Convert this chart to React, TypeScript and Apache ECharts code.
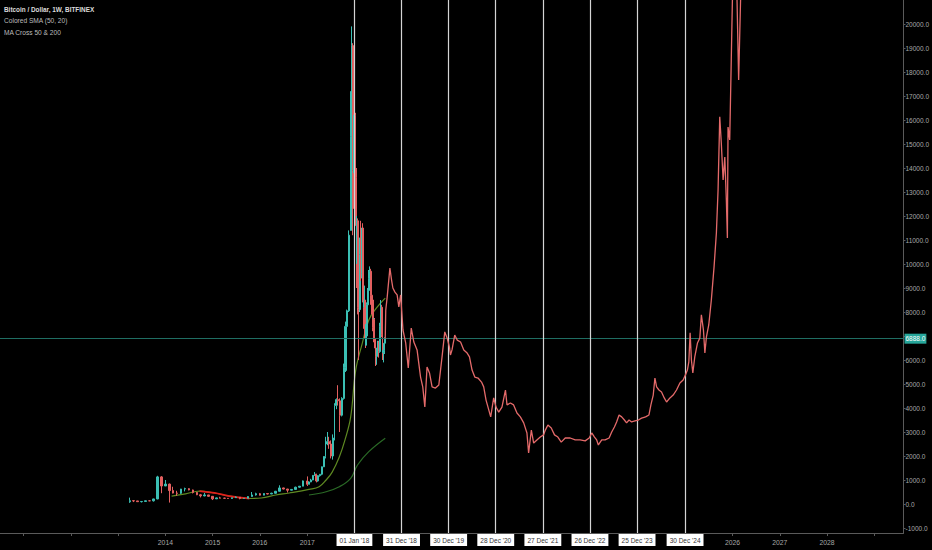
import React, { useEffect, useRef } from "react";
import * as echarts from "echarts";

// ---------- DATA ----------
// Historical candles: [open, close, low, high]
// Monthly, 2013–2016
const monthlyDates = [
  "2013-04-01","2013-05-01","2013-06-01","2013-07-01","2013-08-01","2013-09-01","2013-10-01","2013-11-01","2013-12-01",
  "2014-01-01","2014-02-01","2014-03-01","2014-04-01","2014-05-01","2014-06-01","2014-07-01","2014-08-01","2014-09-01","2014-10-01","2014-11-01","2014-12-01",
  "2015-01-01","2015-02-01","2015-03-01","2015-04-01","2015-05-01","2015-06-01","2015-07-01","2015-08-01","2015-09-01","2015-10-01","2015-11-01","2015-12-01",
  "2016-01-01","2016-02-01","2016-03-01","2016-04-01","2016-05-01","2016-06-01","2016-07-01","2016-08-01","2016-09-01","2016-10-01","2016-11-01","2016-12-01"
];
const monthlyOHLC: number[][] = [
  [93,139,50,266],[139,129,80,140],[129,97,88,130],[97,106,65,111],[106,135,99,140],[135,133,118,147],[133,211,103,220],[211,1130,200,1175],[1130,750,450,1165],
  [750,830,750,1000],[830,560,60,850],[560,455,440,720],[455,445,340,550],[445,625,420,630],[625,640,525,680],[640,585,570,660],[585,480,440,600],[480,385,370,500],[385,338,275,420],[338,378,320,460],[378,320,300,380],
  [320,215,165,320],[215,255,210,265],[255,245,238,300],[245,236,212,260],[236,230,225,245],[230,263,215,265],[263,284,252,318],[284,230,195,285],[230,236,225,245],[236,312,236,330],[312,378,300,500],[378,430,350,470],
  [430,368,355,460],[368,436,365,445],[436,416,400,440],[416,448,415,470],[448,531,440,545],[531,670,525,780],[670,624,610,680],[624,575,480,630],[575,608,570,620],[608,700,604,720],[700,742,680,750],[742,963,740,980]
];
// Bi-weekly / weekly, 2017–Aug 2018
const weeklyDates = [
  "2017-01-02","2017-01-16","2017-01-30","2017-02-13","2017-02-27","2017-03-13","2017-03-27","2017-04-10","2017-04-24","2017-05-08","2017-05-22",
  "2017-06-05","2017-06-19","2017-07-03","2017-07-17","2017-07-31","2017-08-14","2017-08-28","2017-09-11","2017-09-25","2017-10-09","2017-10-23",
  "2017-11-06","2017-11-20","2017-12-04","2017-12-11","2017-12-18","2017-12-25",
  "2018-01-01","2018-01-08","2018-01-15","2018-01-22","2018-01-29","2018-02-05","2018-02-12","2018-02-19","2018-02-26","2018-03-05","2018-03-12",
  "2018-03-19","2018-03-26","2018-04-02","2018-04-09","2018-04-16","2018-04-23","2018-04-30","2018-05-07","2018-05-14","2018-05-21","2018-05-28",
  "2018-06-04","2018-06-11","2018-06-18","2018-06-25","2018-07-02","2018-07-09","2018-07-16","2018-07-23","2018-07-30","2018-08-06","2018-08-13",
  "2018-08-20","2018-08-27"
];
const weeklyOHLC: number[][] = [
  [960,820,750,1150],[820,920,820,950],[920,1000,910,1050],[1000,1190,990,1210],[1190,1240,1170,1330],[1240,960,900,1260],[960,1180,930,1200],[1180,1240,1140,1250],[1240,1550,1200,1560],[1550,1980,1540,1990],[1980,2500,1900,2800],
  [2500,2600,2450,3000],[2600,2500,2300,2800],[2500,2000,1900,2650],[2000,2750,1850,2900],[2750,4100,2650,4200],[4100,4350,3950,4400],[4350,4300,4100,4950],[4300,3700,3000,4400],[3700,4400,3650,4450],[4400,5700,4350,5850],[5700,7400,5500,7600],
  [7400,8050,5550,8100],[8050,11200,8000,11400],[11400,15300,11400,17200],[15300,19100,13200,19900],[19100,13900,11200,19200],[13900,13800,12300,16500],
  [13800,16200,12800,17250],[16200,13600,12600,16300],[13600,11600,9000,14000],[11600,11800,10000,12000],[11800,8200,7900,11900],[8200,8100,6000,9000],[8100,10400,8000,11100],[10400,9600,9300,11800],[9600,11500,9400,11500],[11500,9500,8400,11700],[9500,8200,7300,9900],
  [8200,8500,8000,9100],[8500,6900,6500,8500],[6900,7000,6600,7500],[7000,8300,6600,8400],[8300,8900,7900,9000],[8900,9400,8700,9750],[9400,9700,9000,9900],[9700,8700,8300,9800],[8700,8500,7900,8900],[8500,7350,7200,8500],[7350,7700,7050,7750],
  [7700,6750,6600,7750],[6750,6500,6150,6900],[6500,6150,5750,6850],[6150,6400,5800,6500],[6400,6750,6300,6800],[6750,6350,6100,6800],[6350,7400,6300,7550],[7400,8200,7350,8500],[8200,7050,6950,8300],[7050,6300,6000,7150],[6300,6400,5900,6600],
  [6400,6700,6250,6800],[6700,6888,6650,6950]
];

// Projected path (red line)
const projDates = [
  "2018-08-27","2018-08-31","2018-09-11","2018-10-02","2018-10-15","2018-10-25","2018-11-10","2018-11-27","2018-12-10","2018-12-24",
  "2019-01-11","2019-02-01","2019-02-21","2019-03-16","2019-04-05","2019-04-30","2019-05-27","2019-06-13","2019-06-29","2019-07-16","2019-08-04","2019-08-24","2019-09-19","2019-10-15","2019-11-09","2019-11-30","2019-12-18",
  "2020-01-05","2020-01-13","2020-01-25","2020-02-15","2020-03-05","2020-03-31","2020-04-25","2020-05-21","2020-06-08","2020-06-28","2020-07-19","2020-08-13","2020-09-09","2020-09-26","2020-10-14","2020-11-04","2020-11-19","2020-12-12","2020-12-30",
  "2021-01-20","2021-02-14","2021-03-13","2021-03-25","2021-04-20","2021-05-15","2021-06-10","2021-07-06","2021-08-01","2021-08-26","2021-09-08","2021-09-29","2021-10-17","2021-11-11","2021-12-07",
  "2022-01-02","2022-01-15","2022-02-04","2022-03-02","2022-03-27","2022-04-22","2022-05-18","2022-06-18","2022-07-26","2022-09-03","2022-10-11","2022-11-19","2022-12-20",
  "2023-01-09","2023-01-30","2023-02-16","2023-03-01","2023-03-27","2023-04-22","2023-05-23","2023-06-12","2023-07-03","2023-07-20","2023-08-08","2023-08-28","2023-09-18","2023-10-05","2023-10-24","2023-11-13","2023-12-09",
  "2024-01-04","2024-01-29","2024-02-29","2024-03-26","2024-04-10","2024-04-28","2024-05-11","2024-05-24","2024-06-11","2024-07-01","2024-07-22","2024-08-09","2024-09-04","2024-09-29","2024-10-25","2024-11-20","2024-12-15",
  "2025-01-02","2025-01-17","2025-01-28","2025-02-07","2025-02-17","2025-02-28","2025-03-15","2025-04-05","2025-04-23","2025-05-05","2025-05-21","2025-06-01","2025-06-13","2025-07-01","2025-07-21","2025-08-11","2025-08-29",
  "2025-09-11","2025-09-24","2025-10-06","2025-10-20","2025-11-02","2025-11-14","2025-11-22","2025-11-27","2025-12-10","2025-12-22",
  "2026-01-05","2026-01-28","2026-02-17","2026-03-15"
];
const projValues = [
  6888,8080,8620,9830,9330,9000,8830,8710,8210,8710,
  7250,6710,5670,7330,6750,6420,5290,4880,4040,5710,5460,4880,4830,4960,6130,7170,6920,
  6540,6210,6420,7040,6830,6750,6420,6290,6130,5580,5290,5250,5080,4880,4330,3920,3630,4420,4040,
  3830,4040,4750,4130,4210,4130,3790,3630,3380,2960,2130,3080,2540,2670,2790,
  2880,3080,3290,3170,2880,2790,2580,2750,2750,2670,2670,2630,2750,
  2960,2790,2670,2460,2670,2670,2750,3000,3210,3420,3710,3630,3500,3380,3500,3420,3460,
  3500,3580,3630,3710,4130,4540,5250,4880,4750,4670,4420,4250,4420,4540,4750,5040,5170,
  5380,5580,5920,7130,6000,5460,6130,6710,6920,7880,7250,6290,6960,7460,8500,9880,11290,
  13080,16130,15040,13500,14460,12670,11080,15710,15170,18500,
  22500,23000,17670,23500
];

// Moving averages
const ma50Dates = ["2014-02-18","2014-06-06","2014-09-22","2015-01-15","2015-05-10","2015-10-12","2016-01-12","2016-05-04","2016-08-15","2017-01-15","2017-04-03","2017-05-27","2017-07-13","2017-09-06","2017-10-20","2017-12-03","2018-01-11","2018-03-03","2018-04-22","2018-06-27","2018-08-27"];
const ma50Values = [330,420,540,460,330,230,250,375,460,610,720,1000,1330,1960,2670,3630,5580,6700,7670,8210,8580];
const smaDownDates = ["2014-09-22","2015-01-15","2015-05-10","2015-10-12"];
const smaDownValues = [540,460,330,230];
const ma200Dates = ["2017-01-15","2017-05-27","2017-09-06","2017-12-03","2018-01-25","2018-04-22","2018-08-27"];
const ma200Values = [375,510,720,1070,1625,2180,2740];

// Axes / annotations
const yTicks = [-1000,0,1000,2000,3000,4000,5000,6000,7000,8000,9000,10000,11000,12000,13000,14000,15000,16000,17000,18000,19000,20000];
const yLabels = [-1000,0,1000,2000,3000,4000,5000,6000,8000,9000,10000,11000,12000,13000,14000,15000,16000,17000,18000,19000,20000];
const yearTicks = [2011,2012,2013,2014,2015,2016,2017,2018,2019,2020,2021,2022,2023,2024,2025,2026,2027,2028,2029];
const yearLabels = [2014,2015,2016,2017,2026,2027,2028];
const cycleDates = ["2018-01-01","2018-12-31","2019-12-30","2020-12-28","2021-12-27","2022-12-26","2023-12-25","2024-12-30"];
const cycleLabels = ["01 Jan '18","31 Dec '18","30 Dec '19","28 Dec '20","27 Dec '21","26 Dec '22","25 Dec '23","30 Dec '24"];
const lastPrice = 6888;
const legendLines = ["Bitcoin / Dollar, 1W, BITFINEX","Colored SMA (50, 20)","MA Cross 50 & 200"];

// ---------- HELPERS ----------
const ts = (s: string) => {
  const [y, m, d] = s.split("-").map(Number);
  return Date.UTC(y, m - 1, d);
};
const yearTs = (y: number) => Date.UTC(y, 0, 1);
const FONT = '"Liberation Sans", Arial, sans-serif';
const UP = "#3bbfb4";
const DOWN = "#e35f5f";

const candleStyle = {
  color: UP,
  color0: DOWN,
  borderColor: UP,
  borderColor0: DOWN,
  borderWidth: 1,
};

export default function App() {
  const ref = useRef<HTMLDivElement>(null);
  useEffect(() => {
    if (!ref.current) return;
    const chart = echarts.init(ref.current, null, { renderer: "svg" });
    const option: any = {
      animation: false,
      backgroundColor: "#000000",
      grid: { left: 0, right: 26, top: 0, bottom: 17, containLabel: false },
      xAxis: {
        type: "value",
        min: ts("2010-07-03"),
        max: ts("2029-08-14"),
        axisLine: { show: true, onZero: false, lineStyle: { color: "#5a5a5a", width: 1 } },
        axisTick: { show: true, length: 3, lineStyle: { color: "#5a5a5a" }, customValues: yearTicks.map(yearTs) },
        axisLabel: {
          customValues: yearLabels.map(yearTs),
          formatter: (v: number) => String(new Date(v).getUTCFullYear()),
          color: "#a8a8a8",
          fontSize: 6.8,
          fontFamily: FONT,
          margin: 6,
        },
        splitLine: { show: false },
      },
      yAxis: {
        type: "value",
        position: "right",
        min: -1208,
        max: 21000,
        axisLine: { show: true, lineStyle: { color: "#5a5a5a", width: 1 } },
        axisTick: { show: true, length: 2, lineStyle: { color: "#5a5a5a" }, customValues: yTicks },
        axisLabel: {
          customValues: yLabels,
          formatter: (v: number) => v.toFixed(1),
          color: "#a8a8a8",
          fontSize: 6.5,
          fontFamily: FONT,
          margin: 2,
        },
        splitLine: { show: false },
      },
      graphic: legendLines.map((t, i) => ({
        type: "text",
        left: 4,
        top: 6 + i * 11.3,
        style: {
          text: t,
          fill: i === 0 ? "#dcdcdc" : "#bdbdbd",
          font: `${i === 0 ? "bold " : ""}${i === 0 ? 6.4 : 6.6}px ${FONT}`,
        },
      })),
      series: [
        {
          name: "MA200",
          type: "line",
          data: ma200Dates.map((d, i) => [ts(d), ma200Values[i]]),
          symbol: "none",
          smooth: 0.4,
          lineStyle: { color: "#2a6a26", width: 1.2 },
          z: 2,
        },
        {
          name: "MA50",
          type: "line",
          data: ma50Dates.map((d, i) => [ts(d), ma50Values[i]]),
          symbol: "none",
          smooth: 0.4,
          lineStyle: { color: "#5f8a22", width: 1.2 },
          z: 2,
        },
        {
          name: "Colored SMA",
          type: "line",
          data: smaDownDates.map((d, i) => [ts(d), smaDownValues[i]]),
          symbol: "none",
          smooth: 0.4,
          lineStyle: { color: "#e0201c", width: 1.8 },
          z: 3,
        },
        {
          name: "BTCUSD monthly",
          type: "candlestick",
          data: monthlyDates.map((d, i) => [ts(d), ...monthlyOHLC[i]]),
          encode: { x: 0, y: [1, 2, 3, 4] },
          barWidth: 2,
          itemStyle: candleStyle,
          z: 4,
        },
        {
          name: "BTCUSD",
          type: "candlestick",
          data: weeklyDates.map((d, i) => [ts(d), ...weeklyOHLC[i]]),
          encode: { x: 0, y: [1, 2, 3, 4] },
          barWidth: 1.4,
          itemStyle: candleStyle,
          z: 4,
          markLine: {
            silent: true,
            symbol: ["none", "none"],
            lineStyle: { color: "#1f6e63", width: 1, type: "solid" },
            label: {
              position: "end",
              distance: 1,
              formatter: lastPrice.toFixed(1),
              backgroundColor: "#26a69a",
              color: "#ffffff",
              fontSize: 6.5,
              fontFamily: FONT,
              padding: [2, 1, 1, 1],
            },
            data: [{ yAxis: lastPrice }],
          },
        },
        {
          name: "Projection",
          type: "line",
          data: projDates.map((d, i) => [ts(d), projValues[i]]),
          symbol: "none",
          clip: true,
          lineStyle: { color: "#e46a6a", width: 1.3 },
          z: 5,
          markLine: {
            silent: true,
            symbol: ["none", "none"],
            lineStyle: { color: "#d4d4d4", width: 1.2, type: "solid" },
            label: {
              position: "start",
              distance: 1,
              backgroundColor: "#ffffff",
              color: "#333333",
              fontSize: 6.5,
              fontFamily: FONT,
              padding: [3, 3, 2, 3],
            },
            data: cycleDates.map((d, i) => ({ xAxis: ts(d), label: { formatter: cycleLabels[i] } })),
          },
        },
      ],
    };
    chart.setOption(option);
    return () => chart.dispose();
  }, []);
  return (
    <div
      ref={ref}
      style={{ position: "fixed", left: 0, top: 0, width: 932, height: 550, background: "#000" }}
    />
  );
}
